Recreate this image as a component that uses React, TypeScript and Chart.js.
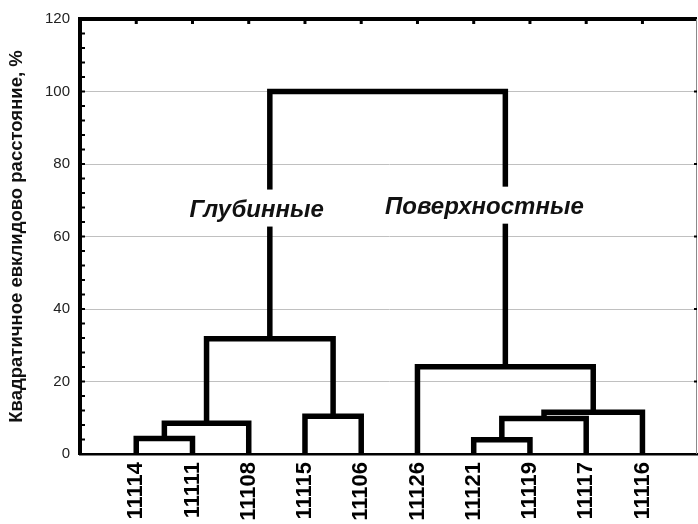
import React, { useEffect, useRef } from 'react';
import { Chart, registerables } from 'chart.js';

Chart.register(...registerables);

// ---- data ----
const leafLabels = ['11114', '11111', '11108', '11115', '11106', '11126', '11121', '11119', '11117', '11116'];
// linkage: node ids 0..9 are leaves, merges create ids 10, 11, ...
const mergeLeft = [0, 10, 3, 11, 6, 14, 15, 5, 13];
const mergeRight = [1, 2, 4, 12, 7, 8, 9, 16, 17];
const mergeHeight = [4.3, 8.5, 10.4, 31.8, 3.9, 9.8, 11.5, 24.1, 100];
const groupNames = ['Глубинные', 'Поверхностные'];
const yAxisTitle = 'Квадратичное евклидово расстояние, %';

const FONT = '"Liberation Sans", Arial, sans-serif';

function buildSegments() {
  const nodeX: number[] = leafLabels.map((_, i) => i + 1);
  const nodeH: number[] = leafLabels.map(() => 0);
  const segs: { x: number; y: number }[][] = [];
  mergeLeft.forEach((a, k) => {
    const b = mergeRight[k];
    const h = mergeHeight[k];
    segs.push([
      { x: nodeX[a], y: nodeH[a] },
      { x: nodeX[a], y: h },
      { x: nodeX[b], y: h },
      { x: nodeX[b], y: nodeH[b] },
    ]);
    nodeX.push((nodeX[a] + nodeX[b]) / 2);
    nodeH.push(h);
  });
  return segs;
}

const framePlugin = {
  id: 'frameDecor',
  afterDatasetsDraw(chart: any, _args: any, opts: any) {
    const ctx = chart.ctx;
    const xs = chart.scales.x;
    const ys = chart.scales.y;
    ctx.save();
    ctx.font = `italic bold ${opts.labelSize}px ${FONT}`;
    ctx.textAlign = 'center';
    ctx.textBaseline = 'alphabetic';
    opts.labels.forEach((lab: any, i: number) => {
      const cx = xs.getPixelForValue(lab.x);
      const by = ys.getPixelForValue(lab.y);
      const text = groupNames[i];
      const w = ctx.measureText(text).width;
      ctx.fillStyle = '#ffffff';
      ctx.fillRect(cx - w / 2 - 4, by - 27, w + 8, 37);
      ctx.fillStyle = '#111111';
      ctx.fillText(text, cx, by);
    });
    ctx.restore();
  },
  afterDraw(chart: any) {
    const ctx = chart.ctx;
    const { left, right, top, bottom } = chart.chartArea;
    const xs = chart.scales.x;
    const ys = chart.scales.y;
    ctx.save();
    ctx.fillStyle = '#000';
    // top border
    ctx.fillRect(left - 2, top - 2, right - left + 2, 4);
    // right border
    ctx.strokeStyle = '#8a8a8a';
    ctx.lineWidth = 1;
    ctx.beginPath();
    ctx.moveTo(right - 0.5, top);
    ctx.lineTo(right - 0.5, bottom);
    ctx.stroke();
    // left minor ticks
    for (let v = 4; v < 120; v += 4) {
      const y = ys.getPixelForValue(v);
      ctx.fillRect(left, y - 1, 5, 2);
    }
    // right ticks at majors
    for (let v = 20; v < 120; v += 20) {
      const y = ys.getPixelForValue(v);
      ctx.fillRect(right - 3, y - 1, 3, 2);
    }
    // top ticks at leaves
    leafLabels.forEach((_, i) => {
      const x = xs.getPixelForValue(i + 1);
      ctx.fillRect(x - 1.5, top, 3, 5);
    });
    ctx.restore();
  },
};

export default function App() {
  const canvasRef = useRef<HTMLCanvasElement | null>(null);

  useEffect(() => {
    const canvas = canvasRef.current;
    if (!canvas) return;
    const segs = buildSegments();
    const chart = new Chart(canvas, {
      type: 'scatter',
      data: {
        datasets: segs.map((pts) => ({
          data: pts,
          showLine: true,
          borderColor: '#000',
          backgroundColor: '#000',
          borderWidth: 5.5,
          pointRadius: 0,
          pointHoverRadius: 0,
          fill: false,
          tension: 0,
          borderJoinStyle: 'miter',
          borderCapStyle: 'butt',
          clip: false,
        })),
      },
      options: {
        animation: false,
        responsive: false,
        devicePixelRatio: 1,
        layout: { padding: { top: 18, right: 1, left: 0, bottom: 0 } },
        plugins: {
          legend: { display: false },
          tooltip: { enabled: false },
          frameDecor: {
            labelSize: 24,
            labels: [
              { x: 3.14, y: 65.5 },
              { x: 7.19, y: 66.3 },
            ],
          },
        } as any,
        scales: {
          x: {
            type: 'linear',
            min: 0,
            max: 10.97,
            grid: { color: 'rgba(0,0,0,0)', drawTicks: false },
            border: { display: true, color: '#000', width: 2.5 },
            ticks: {
              autoSkip: false,
              minRotation: 90,
              maxRotation: 90,
              padding: 8,
              color: '#000',
              font: { family: FONT, size: 22, weight: 'bold' },
              callback: (v: any) => leafLabels[Math.round(Number(v)) - 1] ?? '',
            },
            afterBuildTicks: (s: any) => {
              s.ticks = leafLabels.map((_, i) => ({ value: i + 1 }));
            },
            afterFit: (s: any) => {
              s.height = 70;
            },
          },
          y: {
            type: 'linear',
            min: 0,
            max: 120,
            ticks: {
              stepSize: 20,
              padding: 10,
              color: '#222',
              font: { family: FONT, size: 15 },
            },
            grid: {
              drawTicks: false,
              lineWidth: 1,
              color: (c: any) =>
                c.tick && (c.tick.value === 0 || c.tick.value === 120) ? 'rgba(0,0,0,0)' : '#c0c0c0',
            },
            border: { display: true, color: '#000', width: 4 },
            title: {
              display: true,
              text: yAxisTitle,
              color: '#111',
              font: { family: FONT, size: 18.5, weight: 'bold' },
              padding: { top: 6, bottom: 0 },
            },
            afterFit: (s: any) => {
              s.width = 80;
            },
          },
        },
      } as any,
      plugins: [framePlugin as any],
    });
    return () => chart.destroy();
  }, []);

  return (
    <div style={{ position: 'absolute', left: 0, top: 0, width: 698, height: 524, background: '#fff' }}>
      <canvas ref={canvasRef} width={698} height={524} style={{ display: 'block' }} />
    </div>
  );
}
